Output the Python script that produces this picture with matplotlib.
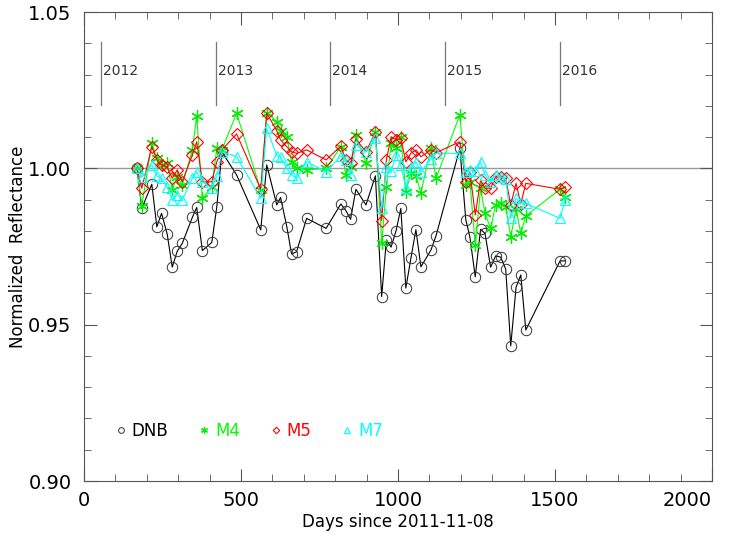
import matplotlib
matplotlib.use('Agg')
import matplotlib.pyplot as plt
from matplotlib.ticker import MultipleLocator, FormatStrFormatter

days = [169, 184, 216, 232, 247, 265, 281, 297, 313, 345, 359, 377, 407, 423, 439, 486,
        563, 582, 614, 626, 646, 661, 677, 709, 771, 818, 834, 849, 866, 898, 928, 948,
        963, 978, 994, 1009, 1025, 1041, 1057, 1073, 1105, 1121, 1197, 1216, 1229, 1246,
        1263, 1277, 1295, 1311, 1327, 1343, 1359, 1376, 1391, 1407, 1516, 1532]

dnb = [1.000, 0.9872, 0.9949, 0.9813, 0.9856, 0.9790, 0.9684, 0.9735, 0.9760, 0.9843,
       0.9875, 0.9737, 0.9763, 0.9877, 1.0053, 0.9979, 0.9803, 1.0011, 0.9883, 0.9907,
       0.9813, 0.9726, 0.9733, 0.9840, 0.9808, 0.9886, 0.9865, 0.9837, 0.9933, 0.9883,
       0.9976, 0.9590, 0.9771, 0.9748, 0.9801, 0.9872, 0.9617, 0.9712, 0.9804, 0.9685,
       0.9739, 0.9784, 1.0064, 0.9835, 0.9780, 0.9653, 0.9805, 0.9792, 0.9684, 0.9720,
       0.9716, 0.9678, 0.9432, 0.9620, 0.9659, 0.9483, 0.9704, 0.9704]

m4 = [1.000, 0.9880, 1.0080, 1.0032, 1.0011, 1.0016, 0.9931, 0.9973, 0.9947, 1.0059,
      1.0168, 0.9904, 0.9941, 1.0064, 1.0059, 1.0176, 0.9930, 1.0178, 1.0149, 1.0120,
      1.0101, 1.0021, 1.0000, 0.9995, 1.0000, 1.0069, 0.9979, 1.0005, 1.0107, 1.0016,
      1.0117, 0.9760, 0.9941, 1.0080, 1.0064, 1.0101, 0.9925, 0.9985, 0.9975, 0.9922,
      1.0064, 0.9968, 1.0171, 0.9947, 0.9957, 0.9755, 0.9936, 0.9856, 0.9808, 0.9883,
      0.9888, 0.9877, 0.9781, 0.9870, 0.9792, 0.9848, 0.9933, 0.9909]

m5 = [1.000, 0.9936, 1.0069, 1.0027, 1.0011, 1.0005, 0.9968, 0.9995, 0.9957, 1.0043,
      1.0085, 0.9957, 0.9957, 1.0021, 1.0059, 1.0110, 0.9933, 1.0177, 1.0120, 1.0091,
      1.0069, 1.0053, 1.0048, 1.0059, 1.0027, 1.0071, 1.0027, 1.0016, 1.0093, 1.0053,
      1.0115, 0.9833, 1.0027, 1.0101, 1.0091, 1.0096, 1.0021, 1.0048, 1.0059, 1.0037,
      1.0059, 1.0050, 1.0085, 0.9957, 0.9989, 0.9851, 0.9963, 0.9936, 0.9936, 0.9973,
      0.9971, 0.9968, 0.9883, 0.9952, 0.9886, 0.9952, 0.9933, 0.9939]

m7 = [1.000, 0.9971, 1.0011, 0.9976, 0.9968, 0.9940, 0.9899, 0.9915, 0.9899, 0.9968,
      0.9989, 0.9957, 0.9936, 0.9975, 1.0053, 1.0037, 0.9904, 1.0128, 1.0040, 1.0037,
      1.0000, 0.9979, 0.9968, 1.0021, 0.9989, 1.0040, 1.0027, 0.9979, 1.0075, 1.0053,
      1.0096, 0.9872, 1.0005, 0.9990, 1.0043, 1.0010, 0.9936, 1.0000, 1.0021, 0.9989,
      1.0030, 1.0048, 1.0048, 0.9989, 0.9995, 0.9990, 1.0021, 0.9979, 0.9957, 0.9979,
      0.9973, 0.9965, 0.9840, 0.9904, 0.9888, 0.9888, 0.9840, 0.9899]

years = ['2012', '2013', '2014', '2015', '2016']
year_days = [54, 420, 785, 1150, 1515]
xticks = [0, 500, 1000, 1500, 2000]

star = (6, 2, 0)

fig = plt.figure(figsize=(7.29, 5.36), dpi=100)
ax = fig.add_axes([0.1152, 0.1026, 0.8615, 0.875])

ax.axhline(1.0, color='#999999', lw=1.0, zorder=1)
for yd, yr in zip(year_days, years):
    ax.plot([yd, yd], [1.0203, 1.0403], color='#777777', lw=0.9)
    ax.text(yd + 6, 1.031, yr, fontsize=10, color='#333333', va='center', ha='left')

ax.plot(days, dnb, color='black', lw=0.8, marker='o', ms=7.5, mfc='none', mec='#333333', mew=0.7, label='DNB')
ax.plot(days, m4, color='#00ff00', lw=0.8, marker=star, ms=9, mec='#00ee00', mew=0.9, label='M4')
ax.plot(days, m5, color='red', lw=0.8, marker='D', ms=6, mfc='none', mew=0.8, label='M5')
ax.plot(days, m7, color='cyan', lw=0.8, marker='^', ms=7, mfc='none', mew=0.8, label='M7')

leg = ax.legend(loc='lower left', bbox_to_anchor=(0.035, 0.055), ncol=4, frameon=False,
                handlelength=0, handletextpad=0.65, columnspacing=2.15, markerscale=0.55,
                fontsize=12, labelcolor=['black', '#00ff00', 'red', 'cyan'])

ax.set_xticks(xticks)
ax.set_xticklabels([str(v) for v in xticks])
ax.set_xlim(0, 2000)
ax.set_ylim(0.90, 1.05)
ax.xaxis.set_minor_locator(MultipleLocator(100))
ax.yaxis.set_major_locator(MultipleLocator(0.05))
ax.yaxis.set_minor_locator(MultipleLocator(0.01))
ax.yaxis.set_major_formatter(FormatStrFormatter('%.2f'))
ax.tick_params(which='both', direction='in', top=True, right=True, color='#555555')
ax.tick_params(which='major', length=9, labelsize=14)
ax.tick_params(axis='y', which='major', pad=9)
ax.tick_params(axis='x', which='major', pad=7)
ax.tick_params(which='minor', length=5)
for s in ax.spines.values():
    s.set_color('#555555')

ax.set_xlabel('Days since 2011-11-08', fontsize=12, labelpad=2)
ax.set_ylabel('Normalized  Reflectance', fontsize=12, labelpad=1)

# keep the last x label inside the figure
ax.xaxis.get_major_ticks()[-1].label1.set_horizontalalignment('right')

fig.savefig('out.png', dpi=100)
